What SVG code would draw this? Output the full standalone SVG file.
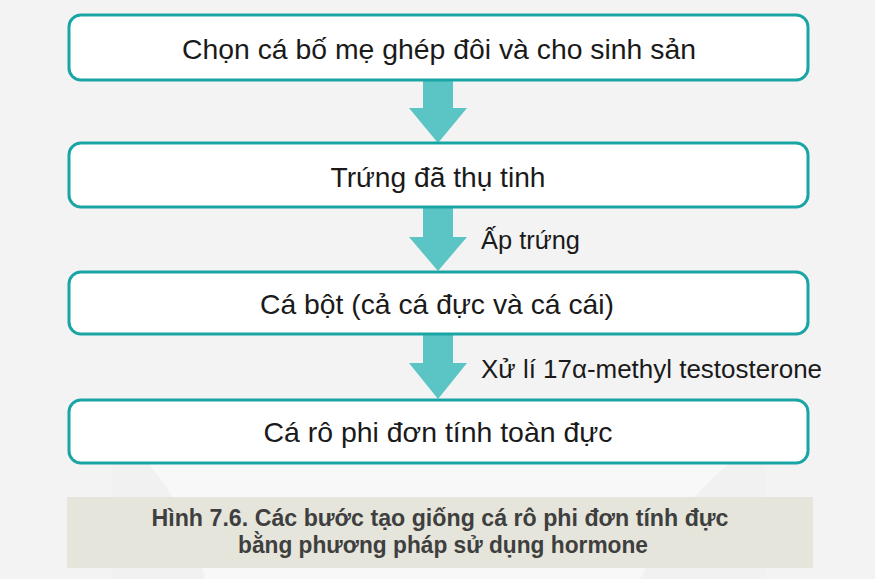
<svg xmlns="http://www.w3.org/2000/svg" width="875" height="579" viewBox="0 0 875 579">
<defs>
<style>
.box{fill:#ffffff;stroke:#1aa5a5;stroke-width:3}
.arrow{fill:#5bc5c5}
.t{font-family:"Liberation Sans",Arial,sans-serif;font-size:28px;fill:#1a1a1a;text-anchor:middle}
.lbl{font-family:"Liberation Sans",Arial,sans-serif;font-size:26px;fill:#1a1a1a}
.cap{font-family:"Liberation Sans",Arial,sans-serif;font-size:23px;font-weight:bold;fill:#3f3f3f;text-anchor:middle}
</style>
</defs>
<rect x="0" y="0" width="875" height="579" fill="#f3f3f3"/>
<rect x="112" y="422" width="653" height="157" fill="#f8f8f8"/>
<path d="M205 579 C190 520 165 470 112 430 L112 579 Z" fill="#f1f1f1"/>
<path d="M640 579 C670 520 710 470 765 440 L765 579 Z" fill="#f1f1f1"/>
<rect x="67" y="497" width="746" height="71" fill="#e5e5dc"/>
<g id="connectors">
<polygon class="arrow" points="423,80 453,80 453,108 467,108 438,143 409,108 423,108"/>
<polygon class="arrow" points="423,207 453,207 453,237 467,237 438,271 409,237 423,237"/>
<polygon class="arrow" points="423,335 453,335 453,363 467,363 438,399 409,363 423,363"/>
<text class="lbl" x="481" y="249" textLength="99" lengthAdjust="spacingAndGlyphs">Ấp trứng</text>
<text class="lbl" x="481" y="378" textLength="341" lengthAdjust="spacingAndGlyphs">Xử lí 17α-methyl testosterone</text>
</g>
<g id="node1"><rect class="box" x="69" y="15" width="739" height="65" rx="12"/><text class="t" x="439" y="59" textLength="514" lengthAdjust="spacingAndGlyphs">Chọn cá bố mẹ ghép đôi và cho sinh sản</text></g>
<g id="node2"><rect class="box" x="69" y="143" width="739" height="64" rx="12"/><text class="t" x="438" y="187" textLength="215" lengthAdjust="spacingAndGlyphs">Trứng đã thụ tinh</text></g>
<g id="node3"><rect class="box" x="69" y="272" width="739" height="62" rx="12"/><text class="t" x="437" y="314" textLength="354" lengthAdjust="spacingAndGlyphs">Cá bột (cả cá đực và cá cái)</text></g>
<g id="node4"><rect class="box" x="69" y="400" width="739" height="63" rx="12"/><text class="t" x="438" y="442" textLength="349" lengthAdjust="spacingAndGlyphs">Cá rô phi đơn tính toàn đực</text></g>
<g id="caption">
<text class="cap" x="440" y="526" textLength="577" lengthAdjust="spacingAndGlyphs">Hình 7.6. Các bước tạo giống cá rô phi đơn tính đực</text>
<text class="cap" x="443" y="553" textLength="410" lengthAdjust="spacingAndGlyphs">bằng phương pháp sử dụng hormone</text>
</g>
</svg>
